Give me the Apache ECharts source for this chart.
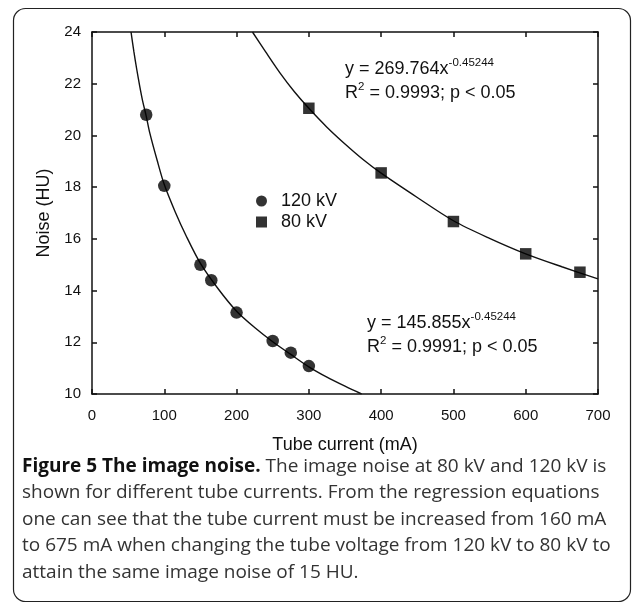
<!DOCTYPE html>
<html>
<head>
<meta charset="utf-8">
<script src="https://cdn.jsdelivr.net/npm/echarts@6/dist/echarts.min.js"></script>
<style>
  html, body { margin: 0; padding: 0; background: #fff; }
  #main { width: 632px; height: 606px; }
</style>
</head>
<body>
<div id="main"></div>
<script>
// measured points
var current120 = [75, 100, 150, 165, 200, 250, 275, 300];
var noise120 = [20.8, 18.05, 15.0, 14.4, 13.15, 12.05, 11.6, 11.08];
var current80 = [300, 400, 500, 600, 675];
var noise80 = [21.05, 18.55, 16.67, 15.42, 14.71];

// fitted curves
var fitX120 = [54, 58, 62, 66, 70, 75, 80, 90, 100, 115, 130, 150, 175, 200, 225, 250, 275, 300, 325, 350, 373];
var fitY120 = [24.0, 23.23, 22.54, 21.91, 21.34, 20.75, 20.09, 19.05, 18.1, 17.05, 16.13, 15.05, 14.05, 13.2, 12.57, 12.02, 11.53, 11.05, 10.65, 10.3, 10.0];
var fitX80 = [222, 240, 260, 280, 300, 325, 350, 375, 400, 450, 500, 550, 600, 650, 700];
var fitY80 = [24.0, 23.24, 22.42, 21.69, 21.05, 20.32, 19.67, 19.07, 18.54, 17.6, 16.7, 16.02, 15.42, 14.92, 14.45];

var xTicks = [0, 100, 200, 300, 400, 500, 600, 700];
var yTicks = [10, 12, 14, 16, 18, 20, 22, 24];

function pairs(xs, ys) {
  return xs.map(function (x, i) { return [x, ys[i]]; });
}

var chart = echarts.init(document.getElementById('main'));

var axisFont = 'Liberation Sans';
var lineStyle = { color: '#111', width: 1.5 };
var supStyle = { fontSize: 11.5, fontFamily: axisFont, fill: '#111', verticalAlign: 'top', lineHeight: 14 };

var option = {
  animation: false,
  backgroundColor: '#fff',
  grid: { left: 92, top: 32, right: 34, bottom: 212 },
  legend: {
    orient: 'vertical',
    left: 251,
    top: 187,
    itemWidth: 11,
    itemHeight: 11,
    itemGap: 3,
    data: [
      { name: '120 kV', icon: 'circle' },
      { name: '80 kV', icon: 'rect' }
    ],
    textStyle: { fontFamily: axisFont, fontSize: 18, color: '#111', padding: [0, 0, 0, 9] }
  },
  xAxis: [
    {
      type: 'value', min: xTicks[0], max: xTicks[xTicks.length - 1], interval: 100,
      name: 'Tube current (mA)', nameLocation: 'middle', nameGap: 42,
      nameTextStyle: { fontFamily: axisFont, fontSize: 18, color: '#111' },
      axisLine: { onZero: false, lineStyle: lineStyle },
      axisTick: { inside: true, length: 5, lineStyle: lineStyle },
      axisLabel: { margin: 14, fontFamily: axisFont, fontSize: 15, color: '#111' },
      splitLine: { show: false }
    },
    {
      type: 'value', position: 'top', min: xTicks[0], max: xTicks[xTicks.length - 1], interval: 100,
      axisLine: { onZero: false, lineStyle: lineStyle },
      axisTick: { inside: true, length: 5, lineStyle: lineStyle },
      axisLabel: { show: false },
      splitLine: { show: false }
    }
  ],
  yAxis: [
    {
      type: 'value', min: yTicks[0], max: yTicks[yTicks.length - 1], interval: 2,
      name: 'Noise (HU)', nameLocation: 'middle', nameGap: 35,
      nameTextStyle: { fontFamily: axisFont, fontSize: 18, color: '#111' },
      axisLine: { show: true, onZero: false, lineStyle: lineStyle },
      axisTick: { show: true, inside: true, length: 5, lineStyle: lineStyle },
      axisLabel: { margin: 11, fontFamily: axisFont, fontSize: 15, color: '#111' },
      splitLine: { show: false }
    },
    {
      type: 'value', position: 'right', min: yTicks[0], max: yTicks[yTicks.length - 1], interval: 2,
      axisLine: { show: true, onZero: false, lineStyle: lineStyle },
      axisTick: { show: true, inside: true, length: 5, lineStyle: lineStyle },
      axisLabel: { show: false },
      splitLine: { show: false }
    }
  ],
  series: [
    {
      name: 'fit120', type: 'line', data: pairs(fitX120, fitY120),
      smooth: 0.3, showSymbol: false, silent: true,
      lineStyle: { color: '#111', width: 1.4 }, z: 2
    },
    {
      name: 'fit80', type: 'line', data: pairs(fitX80, fitY80),
      smooth: 0.3, showSymbol: false, silent: true,
      lineStyle: { color: '#111', width: 1.4 }, z: 2
    },
    {
      name: '120 kV', type: 'scatter', data: pairs(current120, noise120),
      symbol: 'circle', symbolSize: 12.5, itemStyle: { color: '#000' }, z: 3
    },
    {
      name: '80 kV', type: 'scatter', data: pairs(current80, noise80),
      symbol: 'rect', symbolSize: 11.5, itemStyle: { color: '#000' }, z: 3
    }
  ],
  graphic: [
    {
      type: 'rect', shape: { x: 13.5, y: 8.5, width: 617, height: 593, r: 12 },
      style: { fill: null, stroke: '#222', lineWidth: 1.2 }, silent: true
    },
    {
      type: 'text', left: 345, top: 57,
      style: {
        text: 'y = 269.764x{s|-0.45244}\nR{s|2} = 0.9993; p < 0.05',
        fontFamily: axisFont, fontSize: 18, lineHeight: 24, fill: '#111',
        rich: { s: supStyle }
      }
    },
    {
      type: 'text', left: 367, top: 311,
      style: {
        text: 'y = 145.855x{s|-0.45244}\nR{s|2} = 0.9991; p < 0.05',
        fontFamily: axisFont, fontSize: 18, lineHeight: 24, fill: '#111',
        rich: { s: supStyle }
      }
    },
    {
      type: 'text', left: 22, top: 453,
      style: {
        text: '{b|Figure 5 The image noise.} The image noise at 80 kV and 120 kV is\n' +
              'shown for different tube currents. From the regression equations\n' +
              'one can see that the tube current must be increased from 160 mA\n' +
              'to 675 mA when changing the tube voltage from 120 kV to 80 kV to\n' +
              'attain the same image noise of 15 HU.',
        fontFamily: 'Open Sans', fontSize: 19, lineHeight: 26.5, fill: '#333',
        rich: { b: { fontFamily: 'Open Sans', fontSize: 19, fontWeight: 'bold', fill: '#111', lineHeight: 26.5 } }
      }
    }
  ]
};

chart.setOption(option);
</script>
</body>
</html>
